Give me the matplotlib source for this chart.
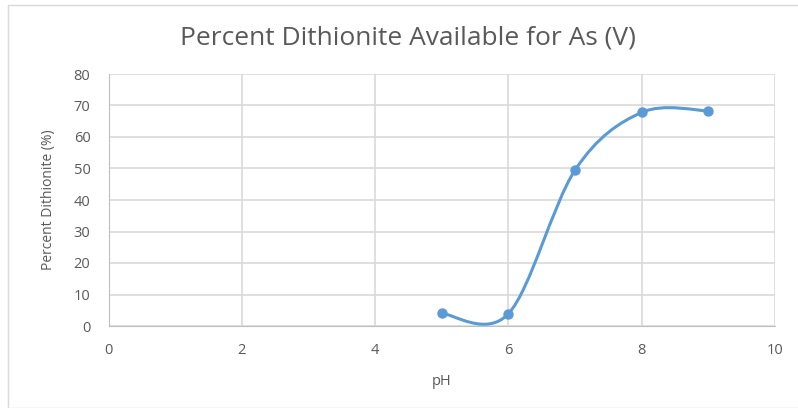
import numpy as np
import matplotlib
matplotlib.use("Agg")
import matplotlib.pyplot as plt
from matplotlib.path import Path
from matplotlib.patches import PathPatch, Rectangle

ph = [5, 6, 7, 8, 9]
percent = [4.0, 3.9, 49.5, 67.8, 68.3]
x_ticks = [0, 2, 4, 6, 8, 10]
y_ticks = [0, 10, 20, 30, 40, 50, 60, 70, 80]

title = "Percent Dithionite Available for As (V)"
xlabel = "pH"
ylabel = "Percent Dithionite (%)"

line_color = "#5B9BD5"
text_color = "#595959"
grid_color = "#D9D9D9"

plt.rcParams['font.family'] = ['Open Sans', 'DejaVu Sans']

fig = plt.figure(figsize=(7.98, 4.08), dpi=100)
W, H = 798, 408
fig.patches.append(Rectangle((8 / W, 0), 1.2, (H - 5) / H, transform=fig.transFigure,
                             fill=False, edgecolor="#D9D9D9", lw=1.0))

ax = fig.add_axes([108.5 / W, 82 / H, (775 - 108.5) / W, (326 - 74) / H])
ax.set_xlim(0, 10)
ax.set_ylim(0, 80)
ax.set_xticks(x_ticks)
ax.set_yticks(y_ticks)
ax.grid(True, color=grid_color, lw=1.2)
ax.set_axisbelow(True)
for s in ax.spines.values():
    s.set_visible(False)
ax.spines['left'].set_visible(True)
ax.spines['bottom'].set_visible(True)
ax.spines['left'].set_color("#BFBFBF")
ax.spines['bottom'].set_color("#BFBFBF")
ax.tick_params(length=0, colors=text_color, labelsize=10.5)
ax.tick_params(axis='x', pad=12)
ax.tick_params(axis='y', pad=13)

# Excel-style smoothed line (cardinal Bezier through the data points)
pts = np.column_stack([ph, percent]).astype(float)
n = len(pts)
verts = [tuple(pts[0])]
codes = [Path.MOVETO]
for i in range(n - 1):
    p0 = pts[i - 1] if i > 0 else pts[i]
    p1 = pts[i]
    p2 = pts[i + 1]
    p3 = pts[i + 2] if i + 2 < n else pts[i + 1]
    c1 = p1 + (p2 - p0) / 6
    c2 = p2 - (p3 - p1) / 6
    verts += [tuple(c1), tuple(c2), tuple(p2)]
    codes += [Path.CURVE4] * 3
ax.add_patch(PathPatch(Path(verts, codes), fill=False, edgecolor=line_color,
                       lw=2.2, capstyle='round', joinstyle='round', clip_on=False))
ax.plot(ph, percent, 'o', color=line_color, ms=6.5, clip_on=False, zorder=5)

fig.text(408 / W, 1 - 38 / H, title, ha='center', va='center', fontsize=19, color=text_color)
ax.set_xlabel(xlabel, color=text_color, fontsize=10.5, labelpad=12)
ax.set_ylabel(ylabel, color=text_color, fontsize=10, labelpad=13)

fig.savefig("out.png", dpi=100)
